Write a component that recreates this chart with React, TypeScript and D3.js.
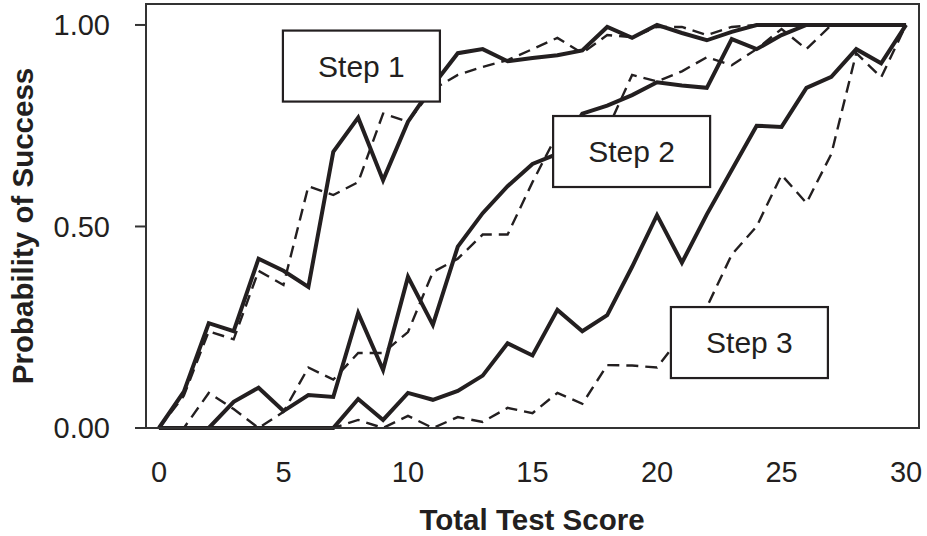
import React, { useEffect, useRef } from "react";
import * as d3 from "d3";

// total test score (x), one point per score
const scores = [
  0, 1, 2, 3, 4, 5, 6, 7, 8, 9, 10, 11, 12, 13, 14, 15, 16, 17, 18, 19, 20,
  21, 22, 23, 24, 25, 26, 27, 28, 29, 30,
];

// probability of success, observed (solid) and model (dashed) per step
const step1Solid = [
  0, 0.09, 0.26, 0.24, 0.42, 0.39, 0.35, 0.685, 0.77, 0.615, 0.76, 0.85, 0.93,
  0.94, 0.91, 0.918, 0.925, 0.937, 0.995, 0.968, 1.0, 0.98, 0.962, 0.983, 1.0,
  1.0, 1.0, 1.0, 1.0, 1.0, 1.0,
];
const step1Dashed = [
  0, 0.08, 0.24, 0.22, 0.39, 0.355, 0.6, 0.578, 0.61, 0.78, 0.76, 0.84, 0.876,
  0.896, 0.913, 0.94, 0.968, 0.93, 0.975, 0.97, 0.995, 0.995, 0.975, 0.995,
  1.0, 1.0, 1.0, 1.0, 1.0, 1.0, 1.0,
];
const step2Solid = [
  0, 0, 0, 0.065, 0.1, 0.042, 0.082, 0.077, 0.285, 0.144, 0.375, 0.256, 0.45,
  0.533, 0.6, 0.655, 0.68, 0.78, 0.8, 0.826, 0.858, 0.85, 0.844, 0.965, 0.94,
  0.975, 1.0, 1.0, 1.0, 1.0, 1.0,
];
const step2Dashed = [
  0, 0, 0.087, 0.047, 0, 0.04, 0.15, 0.12, 0.186, 0.186, 0.238, 0.387, 0.42,
  0.48, 0.48, 0.61, 0.73, 0.76, 0.74, 0.876, 0.86, 0.885, 0.92, 0.9, 0.94,
  0.99, 0.94, 1.0, 1.0, 1.0, 1.0,
];
const step3Solid = [
  0, 0, 0, 0, 0, 0, 0, 0, 0.072, 0.02, 0.087, 0.07, 0.092, 0.13, 0.21, 0.18,
  0.293, 0.24, 0.28, 0.4, 0.528, 0.41, 0.53, 0.64, 0.75, 0.747, 0.844, 0.871,
  0.94, 0.905, 1.0,
];
const step3Dashed = [
  0, 0, 0, 0, 0, 0, 0, 0, 0.02, 0, 0.03, 0, 0.027, 0.015, 0.05, 0.037, 0.087,
  0.06, 0.156, 0.155, 0.15, 0.23, 0.3, 0.43, 0.5, 0.628, 0.558, 0.68, 0.93,
  0.87, 1.0,
];

const xTicks = [0, 5, 10, 15, 20, 25, 30];
const yTicks = [0, 0.5, 1];

const stepLabels = ["Step 1", "Step 2", "Step 3"];
const labelScore = [8.13, 18.98, 23.71];
const labelProb = [0.898, 0.686, 0.212];

const App = () => {
  const ref = useRef<SVGSVGElement>(null);

  useEffect(() => {
    document.body.style.margin = "0";
    const ink = "#231f20";
    const font = "'Liberation Sans', Arial, Helvetica, sans-serif";

    const svg = d3.select(ref.current);
    svg.selectAll("*").remove();

    const x = d3.scaleLinear().domain([-0.52, 30.52]).range([146, 919]);
    const y = d3.scaleLinear().domain([0, 1.052]).range([428, 4]);

    const line = d3
      .line<number>()
      .x((d, i) => x(scores[i]))
      .y((d) => y(d));

    // dashed (model) curves
    [step1Dashed, step2Dashed, step3Dashed].forEach((s) => {
      svg
        .append("path")
        .datum(s)
        .attr("d", line)
        .style("fill", "none")
        .style("stroke", ink)
        .style("stroke-width", "2.4px")
        .style("stroke-dasharray", "12,7");
    });

    // solid (observed) curves
    [step1Solid, step2Solid, step3Solid].forEach((s) => {
      svg
        .append("path")
        .datum(s)
        .attr("d", line)
        .style("fill", "none")
        .style("stroke", ink)
        .style("stroke-width", "4px")
        .style("stroke-linejoin", "miter");
    });

    // frame
    svg
      .append("rect")
      .attr("x", x.range()[0])
      .attr("y", y.range()[1])
      .attr("width", x.range()[1] - x.range()[0])
      .attr("height", y.range()[0] - y.range()[1])
      .style("fill", "none")
      .style("stroke", "#333")
      .style("stroke-width", "2px");

    // y ticks + labels
    const yg = svg.append("g");
    yg.selectAll("line")
      .data(yTicks)
      .join("line")
      .attr("x1", x.range()[0] - 11)
      .attr("x2", x.range()[0])
      .attr("y1", (d) => y(d))
      .attr("y2", (d) => y(d))
      .style("stroke", "#333")
      .style("stroke-width", "2px");
    yg.selectAll("text")
      .data(yTicks)
      .join("text")
      .attr("x", 110)
      .attr("y", (d) => y(d))
      .attr("dy", "0.36em")
      .attr("text-anchor", "end")
      .style("font-family", font)
      .style("font-size", "29px")
      .style("fill", ink)
      .text((d) => d3.format(".2f")(d));

    // x tick labels
    svg
      .append("g")
      .selectAll("text")
      .data(xTicks)
      .join("text")
      .attr("x", (d) => x(d))
      .attr("y", 482)
      .attr("text-anchor", "middle")
      .style("font-family", font)
      .style("font-size", "29px")
      .style("fill", ink)
      .text((d) => d);

    // step boxes
    const boxW = 157;
    const boxH = 71;
    stepLabels.forEach((lbl, i) => {
      const cx = x(labelScore[i]);
      const cy = y(labelProb[i]);
      svg
        .append("rect")
        .attr("x", cx - boxW / 2)
        .attr("y", cy - boxH / 2)
        .attr("width", boxW)
        .attr("height", boxH)
        .style("fill", "#fff")
        .style("stroke", ink)
        .style("stroke-width", "2.2px");
      svg
        .append("text")
        .attr("x", cx)
        .attr("y", cy)
        .attr("dy", "0.36em")
        .attr("text-anchor", "middle")
        .style("font-family", font)
        .style("font-size", "30px")
        .style("fill", ink)
        .text(lbl);
    });

    // axis titles
    svg
      .append("text")
      .attr("x", 532)
      .attr("y", 530)
      .attr("text-anchor", "middle")
      .style("font-family", font)
      .style("font-size", "29.5px")
      .style("font-weight", "bold")
      .style("fill", ink)
      .text("Total Test Score");

    svg
      .append("text")
      .attr("transform", "translate(33,226) rotate(-90)")
      .attr("text-anchor", "middle")
      .style("font-family", font)
      .style("font-size", "29.5px")
      .style("font-weight", "bold")
      .style("fill", ink)
      .text("Probability of Success");
  }, []);

  return (
    <svg
      ref={ref}
      width={927}
      height={536}
      style={{ display: "block", background: "#fff" }}
    />
  );
};

export default App;
